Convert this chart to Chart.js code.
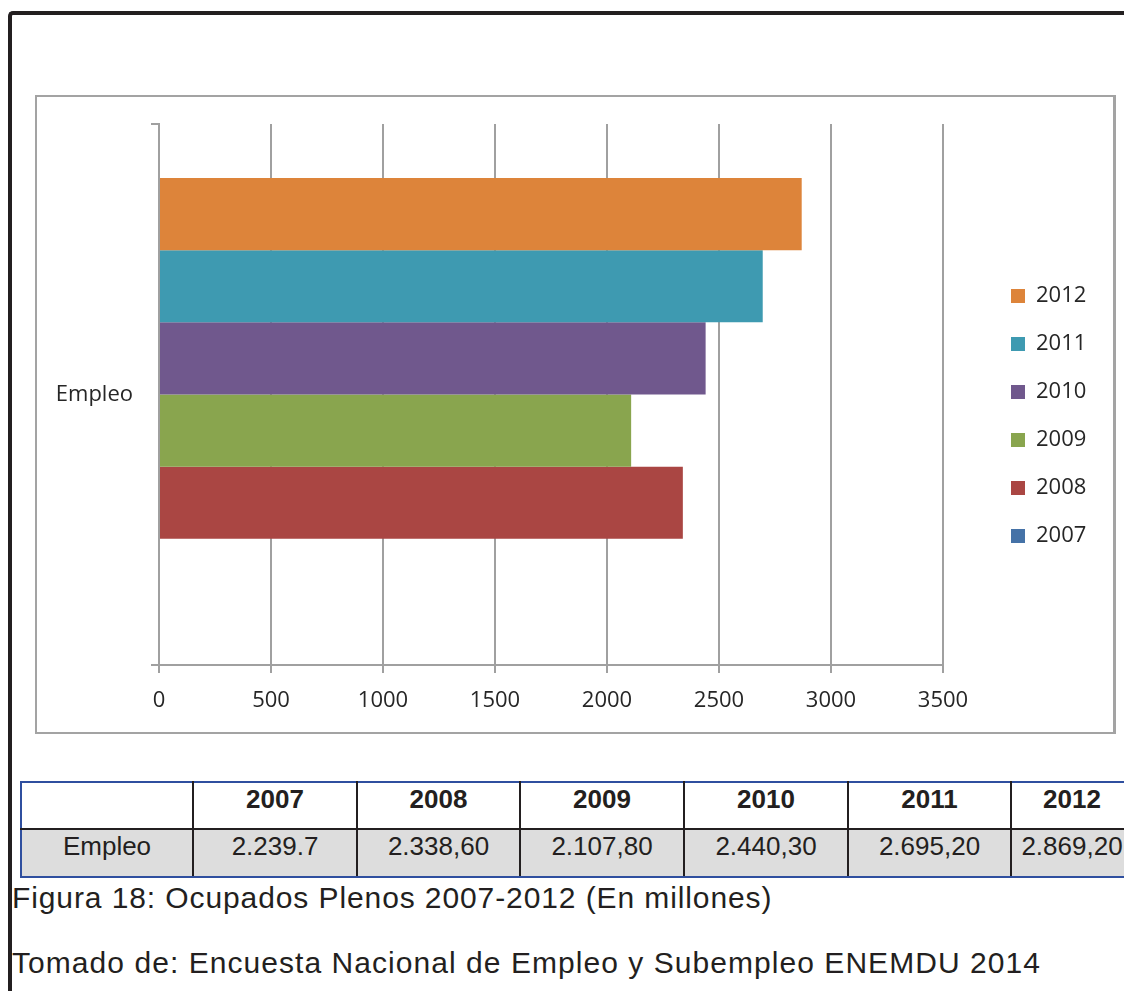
<!DOCTYPE html>
<html>
<head>
<meta charset="utf-8">
<script src="https://cdn.jsdelivr.net/npm/chart.js@4"></script>
<style>
  html, body { margin: 0; padding: 0; background: #fff; }
  body { width: 1124px; height: 991px; position: relative; overflow: hidden; font-family: "Liberation Sans", Arial, sans-serif; }
  #frame { position: absolute; left: 8px; top: 11px; width: 1300px; height: 1200px;
           border-left: 4px solid #231f20; border-top: 4px solid #231f20; border-top-left-radius: 5px; }
  #box { position: absolute; left: 35px; top: 95px; width: 1081px; height: 639px; box-sizing: border-box;
         border: 2px solid #a3a3a3; border-right-width: 3px; }
  #wrap { position: absolute; left: 0; top: 0; width: 1076px; height: 635px; }
  table { position: absolute; left: 20px; top: 781px; width: 1112px; border-collapse: collapse; table-layout: fixed;
          border: 2px solid #2f4f9f; font-size: 26px; color: #231f20; }
  td { border: 2px solid #231f20; text-align: center; padding: 0 0 13px 0; white-space: nowrap; }
  tr.head td { height: 32px; font-weight: bold; background: #fff; }
  tr.vals td { height: 33px; background: #dddddd; }
  tr.head td { border-top: 2px solid #2f4f9f; }
  tr.vals td { border-bottom: 2px solid #2f4f9f; }
  tr td:first-child { border-left: 2px solid #2f4f9f; }
  .cap { position: absolute; left: 12px; font-size: 30px; line-height: 30px; color: #231f20; white-space: nowrap; letter-spacing: 0.9px; }
</style>
</head>
<body>
<div id="frame"></div>
<div id="box"><div id="wrap"><canvas id="myChart"></canvas></div></div>
<table id="tbl"></table>
<div class="cap" style="top:883px">Figura 18: Ocupados Plenos 2007-2012 (En millones)</div>
<div class="cap" style="top:948px; letter-spacing:1.05px">Tomado de: Encuesta Nacional de Empleo y Subempleo ENEMDU 2014</div>
<script>
  // chart data (2007 value was typed as text in the source, so no bar is drawn for it)
  const categories = ['Empleo'];
  const years = ['2012', '2011', '2010', '2009', '2008', '2007'];
  const empleo = [2869.2, 2695.2, 2440.3, 2107.8, 2338.6, null];
  const colors = ['#dd843a', '#3e9ab1', '#70588d', '#89a54e', '#aa4643', '#4572a7'];

  // table below the chart
  const tableYears = ['2007', '2008', '2009', '2010', '2011', '2012'];
  const tableValues = ['2.239.7', '2.338,60', '2.107,80', '2.440,30', '2.695,20', '2.869,20'];

  const colWidths = [172, 164, 163, 164, 164, 163, 122];
  const tbl = document.getElementById('tbl');
  let html = '<colgroup>' + colWidths.map(w => '<col style="width:' + w + 'px">').join('') + '</colgroup>';
  html += '<tr class="head"><td></td>' + tableYears.map(y => '<td>' + y + '</td>').join('') + '</tr>';
  html += '<tr class="vals"><td>Empleo</td>' + tableValues.map(v => '<td>' + v + '</td>').join('') + '</tr>';
  tbl.innerHTML = html;

  const gridColor = '#a0a0a0';
  const textColor = '#262626';

  const legendPlace = {
    id: 'legendPlace',
    beforeLayout(chart) {
      const lg = chart.legend;
      if (lg && !lg._fixed) {
        const fit = lg.fit;
        lg.fit = function () { fit.call(this); this.width = 170; };
        lg._fixed = true;
      }
    },
    afterLayout(chart) {
      const lg = chart.legend;
      lg.left += 42; lg.right += 42;
      lg.top -= 12; lg.bottom -= 12;
    }
  };

  const ctx = document.getElementById('myChart');

  new Chart(ctx, {
    type: 'bar',
    data: {
      labels: categories,
      datasets: years.map((y, i) => ({
        label: y,
        data: [empleo[i]],
        backgroundColor: colors[i],
        borderWidth: 0,
        categoryPercentage: 0.8,
        barPercentage: 1.0
      }))
    },
    options: {
      indexAxis: 'y',
      responsive: true,
      maintainAspectRatio: false,
      animation: false,
      layout: { padding: { top: 27, left: 0, right: 0, bottom: 0 } },
      scales: {
        x: {
          min: 0,
          max: 3500,
          ticks: { stepSize: 500, color: textColor, padding: 15, font: { family: 'Open Sans', size: 22 },
                   callback: v => String(v) },
          grid: { color: gridColor, lineWidth: 2, tickLength: 8, drawTicks: true },
          border: { display: true, color: gridColor, width: 2 },
          afterFit(scale) { scale.height = 67; scale.paddingTop = 0; scale.paddingBottom = 0; }
        },
        y: {
          ticks: { color: textColor, padding: 18, font: { family: 'Open Sans', size: 22 } },
          grid: { color: gridColor, lineWidth: 2, drawOnChartArea: false, drawTicks: true, tickLength: 8, offset: true },
          border: { display: true, color: gridColor, width: 2 },
          afterFit(scale) { scale.width = 122; scale.paddingTop = 0; scale.paddingBottom = 0; }
        }
      },
      plugins: {
        legend: {
          position: 'right',
          labels: { boxWidth: 14, boxHeight: 14, padding: 26, color: textColor, font: { family: 'Open Sans', size: 22 } }
        },
        tooltip: { enabled: false }
      }
    },
    plugins: [legendPlace]
  });
</script>
</body>
</html>
